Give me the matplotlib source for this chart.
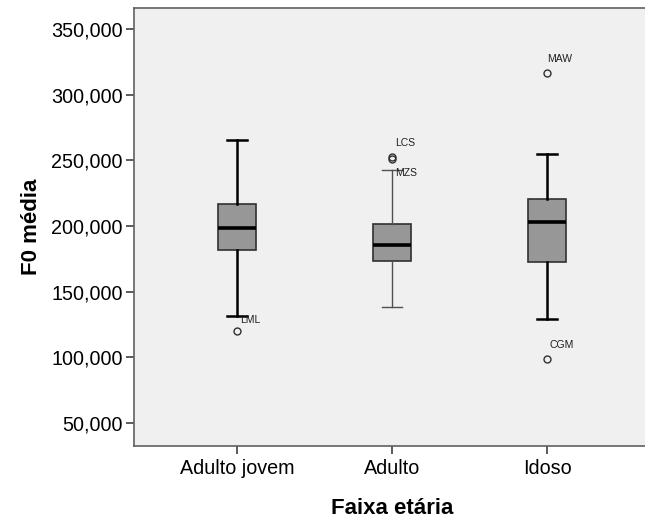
import matplotlib.pyplot as plt
from matplotlib.ticker import FuncFormatter

categories = ['Adulto jovem', 'Adulto', 'Idoso']
# five-number summaries: low whisker, q1, median, q3, high whisker
whislo = [131.7, 138.1, 129.2]
q1 = [181.7, 173.1, 172.3]
med = [198.5, 185.5, 203.3]
q3 = [216.8, 201.3, 220.3]
whishi = [265.5, 242.9, 255.1]
outliers = [[120.3], [252.3, 250.8], [316.7, 98.5]]
outlier_labels = [['LML'], ['LCS', 'MZS'], ['MAW', 'CGM']]
yticks = [50, 100, 150, 200, 250, 300, 350]

plt.rcParams['font.family'] = ['Liberation Sans', 'DejaVu Sans']

fig = plt.figure(figsize=(6.45, 5.19), dpi=100)
ax = fig.add_axes([134 / 645, 73 / 519, 516 / 645, 438 / 519])
ax.set_facecolor('#f0f0f0')

stats = []
for i in range(len(categories)):
    stats.append({'whislo': whislo[i], 'q1': q1[i], 'med': med[i], 'q3': q3[i],
                  'whishi': whishi[i], 'fliers': outliers[i], 'label': categories[i]})

bp = ax.bxp(stats, positions=range(len(categories)), widths=0.25, patch_artist=True,
            manage_ticks=False,
            boxprops=dict(facecolor='#979797', edgecolor='#303030', linewidth=1.2),
            medianprops=dict(color='black', linewidth=2.6),
            flierprops=dict(marker='o', markerfacecolor='none', markeredgecolor='#303030',
                            markersize=5, markeredgewidth=1.0))

# middle group has thinner, greyer whiskers in the original
for i in range(len(categories)):
    lw = 1.0 if i == 1 else 1.8
    col = '#505050' if i == 1 else 'black'
    for ln in bp['whiskers'][2 * i:2 * i + 2] + bp['caps'][2 * i:2 * i + 2]:
        ln.set_linewidth(lw)
        ln.set_color(col)

offsets = {'LML': (2, 8), 'LCS': (2, 10), 'MZS': (2, -10), 'MAW': (0, 10), 'CGM': (2, 10)}
for i in range(len(categories)):
    for v, lab in zip(outliers[i], outlier_labels[i]):
        ax.annotate(lab, (i, v), xytext=offsets[lab], textcoords='offset points',
                    fontsize=7.5, color='#202020', va='center', ha='left')

ax.set_xlim(-0.665, 2.665)
ax.set_ylim(32.5, 366)
ax.set_xticks(range(len(categories)))
ax.set_xticklabels(categories)
ax.set_yticks(yticks)
ax.yaxis.set_major_formatter(FuncFormatter(lambda v, p: '%d,000' % v))
ax.tick_params(axis='both', labelsize=14.2, length=6, width=1.2, color='#404040', pad=2)
ax.tick_params(axis='x', pad=3)

for s in ['left', 'bottom', 'top']:
    ax.spines[s].set_color('#606060')
    ax.spines[s].set_linewidth(1.2)
ax.spines['right'].set_visible(False)

ax.set_xlabel('Faixa etária', fontsize=16, fontweight='bold', labelpad=15)
ax.set_ylabel('F0 média', fontsize=16, fontweight='bold', labelpad=7)

fig.savefig('out.png', dpi=100)
